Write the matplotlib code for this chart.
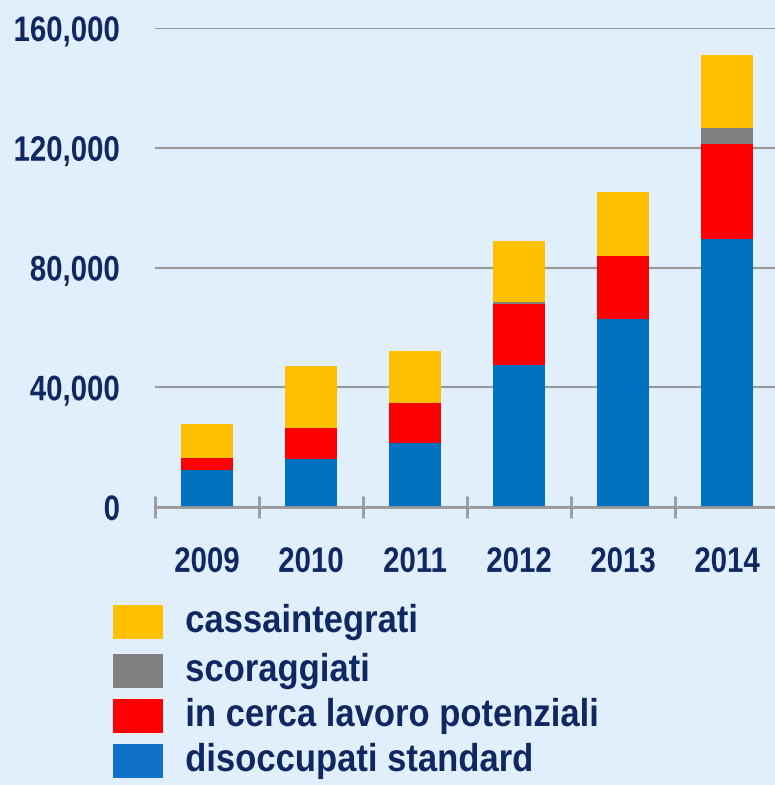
import matplotlib
matplotlib.use("Agg")
import matplotlib.pyplot as plt
from matplotlib.patches import Rectangle
from matplotlib.ticker import FuncFormatter
from matplotlib.patheffects import AbstractPathEffect
from matplotlib.transforms import Affine2D
import numpy as np

years = ["2009", "2010", "2011", "2012", "2013", "2014"]
disoccupati = [12500, 16000, 21400, 47400, 62800, 89500]
in_cerca = [3900, 10400, 13200, 20400, 21000, 31700]
scoraggiati = [0, 0, 0, 700, 0, 5400]
cassaintegrati = [11300, 20700, 17500, 20300, 21400, 24400]

series_names = ["disoccupati standard", "in cerca lavoro potenziali", "scoraggiati", "cassaintegrati"]
series_colors = ["#0070C0", "#FF0000", "#808080", "#FFC000"]
legend_colors = ["#1170C8", "#FF0000", "#808080", "#FFC000"]
yticks = [0, 40000, 80000, 120000, 160000]


class Squeeze(AbstractPathEffect):
    """Horizontally condense text glyphs around an anchor (left/center/right)."""
    def __init__(self, sx, align):
        super().__init__()
        self.sx = sx
        self.align = align

    def draw_path(self, renderer, gc, tpath, affine, rgbFace=None):
        ext = tpath.get_extents()
        if self.align == 'right':
            a = ext.x1
        elif self.align == 'center':
            a = 0.5 * (ext.x0 + ext.x1)
        else:
            a = ext.x0
        t = Affine2D().translate(-a, 0).scale(self.sx, 1).translate(a, 0)
        renderer.draw_path(gc, tpath, t + affine, rgbFace)


plt.rcParams['font.family'] = ['Liberation Sans', 'DejaVu Sans']
bg = "#E1EFFC"
txt = "#0F2862"

W, H = 775, 785
fig = plt.figure(figsize=(W/100, H/100), dpi=100, facecolor=bg)
ax = fig.add_axes([155/W, (H-507)/H, 624/W, (507-28)/H], facecolor=bg)

x = np.arange(len(years))
bottom = np.zeros(len(years))
for vals, col in zip([disoccupati, in_cerca, scoraggiati, cassaintegrati], series_colors):
    v = np.array(vals, dtype=float)
    ax.bar(x, v, width=0.5, bottom=bottom, color=col, edgecolor='none', zorder=3)
    bottom += v

ax.set_xlim(-0.5, len(years) - 0.5)
ax.set_ylim(0, 160000)
ax.set_yticks(yticks)
ax.yaxis.set_major_formatter(FuncFormatter(lambda v, p: f"{int(v):,}"))
ax.yaxis.grid(True, color="#999999", linewidth=1.5, zorder=1)
ax.tick_params(axis='y', length=0, pad=25, labelsize=25.5, labelcolor=txt)
for lab in ax.get_yticklabels():
    lab.set_fontweight('bold')
    lab.set_path_effects([Squeeze(0.83, 'right')])

ax.set_xticks(x)
ax.set_xticklabels(years, fontsize=25.5, fontweight='bold', color=txt)
for lab in ax.get_xticklabels():
    lab.set_path_effects([Squeeze(0.83, 'center')])
ax.set_xticks(np.arange(len(years) + 1) - 0.5, minor=True)
ax.tick_params(axis='x', which='major', length=0, pad=28)
ax.tick_params(axis='x', which='minor', direction='inout', length=16, width=2, color="#999999")

for s in ['top', 'right', 'left']:
    ax.spines[s].set_visible(False)
ax.spines['bottom'].set_color("#999999")
ax.spines['bottom'].set_linewidth(2)
ax.spines['bottom'].set_zorder(4)

# legend (top to bottom: reversed order of stack)
rows_y = [605, 654, 699, 744]
for i, idx in enumerate([3, 2, 1, 0]):
    y0 = rows_y[i]
    fig.patches.append(Rectangle((113/W, (H - y0 - 34)/H), 50/W, 34/H,
                                 transform=fig.transFigure, facecolor=legend_colors[idx],
                                 edgecolor='none'))
    t = fig.text(185/W, (H - y0 - 17)/H, series_names[idx], fontsize=28, fontweight='bold',
                 color=txt, va='center', ha='left')
    t.set_path_effects([Squeeze(0.89, 'left')])

fig.savefig("out.png", dpi=100, facecolor=bg)
